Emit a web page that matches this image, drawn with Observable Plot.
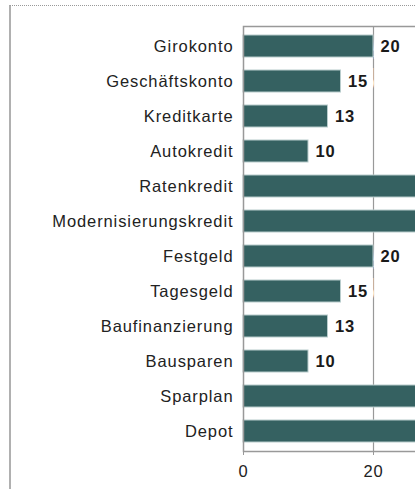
<!DOCTYPE html>
<html>
<head>
<meta charset="utf-8">
<script src="https://cdn.jsdelivr.net/npm/d3@7"></script>
<script src="https://cdn.jsdelivr.net/npm/@observablehq/plot@0.6"></script>
<style>
  html, body { margin: 0; padding: 0; background: #fff; overflow: hidden; width: 415px; height: 489px; }
  #frame { position: absolute; left: 9px; top: 5px; width: 600px; height: 600px;
           border-top: 1px dotted #999; border-left: 2px solid #b0b0b0; }
  #chart { position: absolute; left: 0; top: 0; width: 540px; }
  svg { font-family: "Liberation Sans", Arial, sans-serif; max-width: none !important; }
  svg text { letter-spacing: 0.9px; }
</style>
</head>
<body>
<div id="frame"></div>
<div id="chart"></div>
<script>
const categories = ["Girokonto", "Geschäftskonto", "Kreditkarte", "Autokredit", "Ratenkredit",
  "Modernisierungskredit", "Festgeld", "Tagesgeld", "Baufinanzierung", "Bausparen", "Sparplan", "Depot"];
const values = [20, 15, 13, 10, 30, 30, 20, 15, 13, 10, 30, 30];
const xTicks = [0, 20];

const data = categories.map((c, i) => ({category: c, value: values[i]}));

const chart = Plot.plot({
  width: 540,
  height: 489,
  marginLeft: 243,
  marginRight: 37,
  marginTop: 26,
  marginBottom: 38,
  style: {fontFamily: "'Liberation Sans', Arial, sans-serif", fontSize: "16px", color: "#222", maxWidth: "none"},
  x: {domain: [0, 40], ticks: xTicks, label: null},
  y: {domain: categories, paddingInner: 0.38, paddingOuter: 0.19, label: null},
  marks: [
    Plot.gridX(xTicks.filter(d => d > 0), {stroke: "#999", strokeOpacity: 1, strokeWidth: 1.2}),
    Plot.text(data.filter(d => d.value <= 26), {x: "value", y: "category", text: d => String(d.value),
      dx: 7, textAnchor: "start", fontWeight: "bold", fontSize: 16.5, fill: "#1a1a1a",
      stroke: "white", strokeWidth: 14, paintOrder: "stroke", strokeLinejoin: "miter"}),
    Plot.barX(data, {x: "value", y: "category", fill: "#356161", stroke: "#b8cccc", strokeWidth: 1}),
    Plot.frame({stroke: "#999", strokeWidth: 1.5}),
    Plot.axisY({tickSize: 0, tickPadding: 10, fontSize: 16.5, fill: "#222", label: null}),
    Plot.axisX({ticks: xTicks, tickSize: 4, tickPadding: 10, fontSize: 16.5, fill: "#222", stroke: "#999", label: null})
  ]
});
document.getElementById("chart").appendChild(chart);
</script>
</body>
</html>
